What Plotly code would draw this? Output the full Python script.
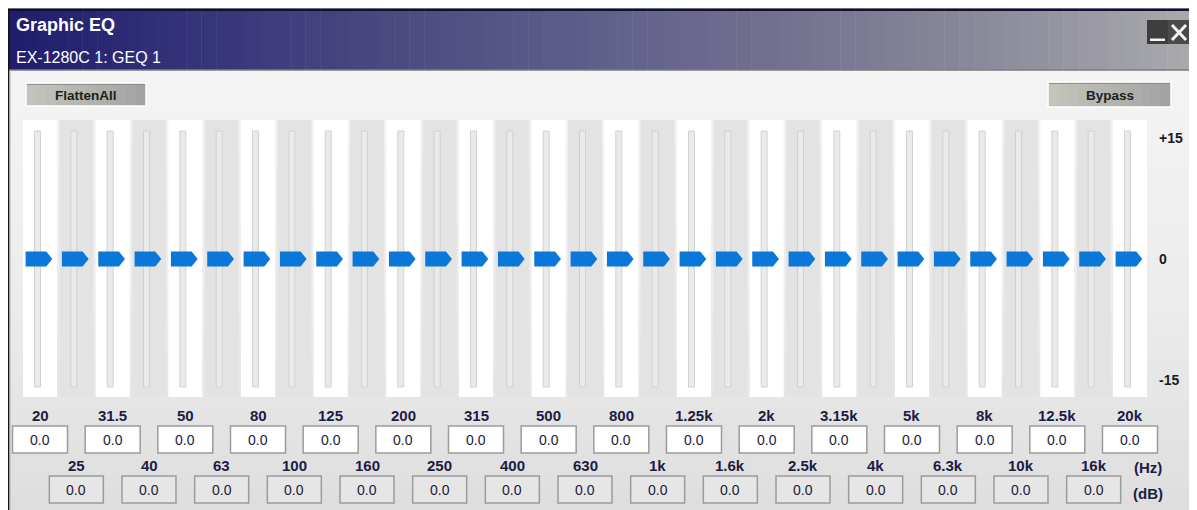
import plotly.graph_objects as go

# ---------------- data ----------------
bands_hz = ["20", "25", "31.5", "40", "50", "63", "80", "100", "125", "160",
            "200", "250", "315", "400", "500", "630", "800", "1k", "1.25k", "1.6k",
            "2k", "2.5k", "3.15k", "4k", "5k", "6.3k", "8k", "10k", "12.5k", "16k", "20k"]
gains_db = [0.0, 0.0, 0.0, 0.0, 0.0, 0.0, 0.0, 0.0, 0.0, 0.0,
            0.0, 0.0, 0.0, 0.0, 0.0, 0.0, 0.0, 0.0, 0.0, 0.0,
            0.0, 0.0, 0.0, 0.0, 0.0, 0.0, 0.0, 0.0, 0.0, 0.0, 0.0]
scale_vals = [15, 0, -15]
scale_text = ["+15", "0", "-15"]
title_text = "Graphic EQ"
subtitle_text = "EX-1280C 1: GEQ 1"
button_left = "FlattenAll"
button_right = "Bypass"
unit_hz = "(Hz)"
unit_db = "(dB)"

# ---------------- geometry (screen pixels) ----------------
SW, SH = 1197, 510          # browser window
OFF = 8                     # default page margin
W, H = SW - OFF, SH - OFF   # figure size
X0_PX = 40.0        # centre of first band (screen px)
PITCH = 36.333      # px per band
Y0_PX = 259.0       # 0 dB (screen px)
PX_PER_DB = 8.07

FONT = "Liberation Sans, Arial, sans-serif"
n = len(bands_hz)
idx = list(range(n))


def fx(px):
    return (px - OFF) / W


def fy(py):
    return 1 - (py - OFF) / H


def dbx(px):  # pixel offset -> band units
    return px / PITCH


def dby(py):  # absolute screen pixel y -> dB
    return (Y0_PX - py) / PX_PER_DB


def hex2rgb(h):
    h = h.lstrip("#")
    return tuple(int(h[i:i + 2], 16) for i in (0, 2, 4))


def interp(stops, v):
    for (a, ca), (b, cb) in zip(stops[:-1], stops[1:]):
        if a <= v <= b:
            t = (v - a) / (b - a) if b > a else 0
            A, B = hex2rgb(ca), hex2rgb(cb)
            return "rgb(%d,%d,%d)" % tuple(round(A[k] + (B[k] - A[k]) * t) for k in range(3))
    return stops[-1][1] if v > stops[-1][0] else stops[0][1]


shapes = []
annotations = []

# ---------------- window chrome ----------------
panel_stops = [(71, "#f4f4f4"), (300, "#ececec"), (510, "#dedede")]
NS = 40
for k in range(NS):
    y0 = 70 + (510 - 70) * k / NS
    y1 = 70 + (510 - 70) * (k + 1) / NS + 0.5
    shapes.append(dict(type="rect", xref="paper", yref="paper", layer="below",
                       x0=fx(8), x1=fx(SW), y0=fy(y1), y1=fy(y0),
                       fillcolor=interp(panel_stops, (y0 + y1) / 2), line=dict(width=0)))

title_stops = [(7, "#1f1c6b"), (200, "#36347a"), (380, "#4a4880"), (590, "#5f5e8a"),
               (800, "#757390"), (1000, "#8d8c9c"), (1197, "#aaaaae")]
NT = 80
for k in range(NT):
    x0 = 8 + (SW - 8) * k / NT
    x1 = 8 + (SW - 8) * (k + 1) / NT + 0.5
    shapes.append(dict(type="rect", xref="paper", yref="paper", layer="below",
                       x0=fx(x0), x1=fx(x1), y0=fy(70), y1=fy(9),
                       fillcolor=interp(title_stops, (x0 + x1) / 2), line=dict(width=0)))
shapes.append(dict(type="line", xref="paper", yref="paper", layer="below",
                   x0=fx(8), x1=1, y0=fy(8.5), y1=fy(8.5), line=dict(color="#6a6890", width=1)))
shapes.append(dict(type="line", xref="paper", yref="paper", layer="below",
                   x0=fx(8), x1=1, y0=fy(10), y1=fy(10), line=dict(color="#111122", width=2)))
shapes.append(dict(type="line", xref="paper", yref="paper", layer="below",
                   x0=fx(8), x1=1, y0=fy(70), y1=fy(70), line=dict(color="#7c7c7c", width=1.5)))
shapes.append(dict(type="line", xref="paper", yref="paper", layer="below",
                   x0=fx(8.7), x1=fx(8.7), y0=0, y1=fy(9), line=dict(color="#151515", width=1.5)))
shapes.append(dict(type="line", xref="paper", yref="paper", layer="below",
                   x0=fx(10), x1=fx(10), y0=0, y1=fy(70), line=dict(color="#b4b4b4", width=1)))

# close button
shapes.append(dict(type="rect", xref="paper", yref="paper", layer="above",
                   x0=fx(1147), x1=fx(1168), y0=fy(44), y1=fy(20),
                   fillcolor="#3e3e3e", line=dict(width=0)))
shapes.append(dict(type="rect", xref="paper", yref="paper", layer="above",
                   x0=fx(1168), x1=fx(1190), y0=fy(44), y1=fy(20),
                   fillcolor="#4a4a4a", line=dict(width=0)))
shapes.append(dict(type="rect", xref="paper", yref="paper", layer="above",
                   x0=fx(1150), x1=fx(1165), y0=fy(41), y1=fy(38.5),
                   fillcolor="#f4f4f4", line=dict(width=0)))
shapes.append(dict(type="line", xref="paper", yref="paper", layer="above",
                   x0=fx(1172), x1=fx(1186), y0=fy(25), y1=fy(40),
                   line=dict(color="#f4f4f4", width=3)))
shapes.append(dict(type="line", xref="paper", yref="paper", layer="above",
                   x0=fx(1172), x1=fx(1186), y0=fy(40), y1=fy(25),
                   line=dict(color="#f4f4f4", width=3)))


def button(x0, x1, y0, y1, label):
    stops = [(x0, "#c6c6be"), (x1, "#a2a2a2")]
    NB = 12
    for k in range(NB):
        a = x0 + (x1 - x0) * k / NB
        b = x0 + (x1 - x0) * (k + 1) / NB + 0.5
        shapes.append(dict(type="rect", xref="paper", yref="paper", layer="above",
                           x0=fx(a), x1=fx(min(b, x1)), y0=fy(y1), y1=fy(y0),
                           fillcolor=interp(stops, (a + b) / 2), line=dict(width=0)))
    shapes.append(dict(type="rect", xref="paper", yref="paper", layer="above",
                       x0=fx(x0), x1=fx(x1), y0=fy(y1), y1=fy(y0),
                       fillcolor="rgba(0,0,0,0)", line=dict(color="#ffffff", width=1.5)))
    shapes.append(dict(type="line", xref="paper", yref="paper", layer="above",
                       x0=fx(x0 + 1), x1=fx(x1 - 1), y0=fy(y0 + 1.5), y1=fy(y0 + 1.5),
                       line=dict(color="#909090", width=1)))
    annotations.append(dict(xref="paper", yref="paper", x=fx((x0 + x1) / 2), y=fy((y0 + y1) / 2 + 0.5),
                            text="<b>%s</b>" % label, showarrow=False,
                            font=dict(family=FONT, size=13.5, color="#1e1e1e"),
                            xanchor="center", yanchor="middle"))


button(26, 146, 83, 106, button_left)
button(1048, 1171, 82, 107, button_right)

annotations.append(dict(xref="paper", yref="paper", x=fx(14), y=fy(25), text="<b>%s</b>" % title_text,
                        showarrow=False, xanchor="left", yanchor="middle",
                        font=dict(family=FONT, size=18, color="#ffffff")))
annotations.append(dict(xref="paper", yref="paper", x=fx(14), y=fy(57), text=subtitle_text,
                        showarrow=False, xanchor="left", yanchor="middle",
                        font=dict(family=FONT, size=16, color="#ffffff")))

# ---------------- band labels & value boxes ----------------
for i, (lab, g) in enumerate(zip(bands_hz, gains_db)):
    top = (i % 2 == 0)
    ly = 415 if top else 465
    by0, by1 = (426, 453) if top else (476, 503)
    half = 27.5 if top else 27
    shapes.append(dict(type="rect", xref="x", yref="paper", layer="above",
                       x0=i - dbx(half), x1=i + dbx(half), y0=fy(by1), y1=fy(by0),
                       fillcolor="#ffffff" if top else "#e6e6e6",
                       line=dict(color="#9c9c9c", width=1.5)))
    annotations.append(dict(xref="x", yref="paper", x=i, y=fy(ly), text="<b>%s</b>" % lab,
                            showarrow=False, xanchor="center", yanchor="middle",
                            font=dict(family=FONT, size=15, color="#1c1c44")))
    annotations.append(dict(xref="x", yref="paper", x=i, y=fy((by0 + by1) / 2), text="%.1f" % g,
                            showarrow=False, xanchor="center", yanchor="middle",
                            font=dict(family=FONT, size=14, color="#202038")))

annotations.append(dict(xref="paper", yref="paper", x=fx(1148), y=fy(467), text="<b>%s</b>" % unit_hz,
                        showarrow=False, xanchor="center", yanchor="middle",
                        font=dict(family=FONT, size=15, color="#1c1c44")))
annotations.append(dict(xref="paper", yref="paper", x=fx(1148), y=fy(493), text="<b>%s</b>" % unit_db,
                        showarrow=False, xanchor="center", yanchor="middle",
                        font=dict(family=FONT, size=15, color="#1c1c44")))

# ---------------- traces ----------------
fig = go.Figure()

strip_top, strip_bot = 120, 397
fig.add_trace(go.Bar(
    x=idx, y=[dby(strip_top) - dby(strip_bot)] * n, base=dby(strip_bot),
    width=dbx(34), marker=dict(color=["#ffffff" if i % 2 == 0 else "#e3e3e3" for i in idx],
                               line=dict(width=0)),
    hoverinfo="skip", showlegend=False))

trk_top, trk_bot = 131, 387
fig.add_trace(go.Bar(
    x=[i - dbx(2.5) for i in idx], y=[dby(trk_top) - dby(trk_bot)] * n, base=dby(trk_bot),
    width=dbx(6), marker=dict(color="#e9ebe9", line=dict(color="#d0d2d0", width=1)),
    hoverinfo="skip", showlegend=False))

ox = [-14, 6.7, 12.7, 6.7, -14, -14]
oy = [7.5, 7.5, 0, -7.5, -7.5, 7.5]
tx, ty = [], []
for i, g in zip(idx, gains_db):
    tx += [i - 0.4 / PITCH + dbx(a) for a in ox] + [None]
    ty += [g + b / PX_PER_DB for b in oy] + [None]
fig.add_trace(go.Scatter(x=tx, y=ty, mode="lines", fill="toself", fillcolor="#0b77d8",
                         line=dict(width=0, color="#0b77d8"), hoverinfo="skip", showlegend=False))

fig.update_layout(
    width=W, height=H, margin=dict(l=0, r=0, t=0, b=0),
    paper_bgcolor="#ffffff", plot_bgcolor="rgba(0,0,0,0)",
    barmode="overlay", showlegend=False,
    xaxis=dict(range=[(OFF - X0_PX) / PITCH, (SW - X0_PX) / PITCH], domain=[0, 1],
               showgrid=False, zeroline=False, showticklabels=False, ticks="", fixedrange=True),
    yaxis=dict(range=[dby(SH), dby(OFF)], domain=[0, 1],
               anchor="free", position=fx(1158), side="right",
               tickvals=scale_vals, ticktext=["<b>%s</b>" % t for t in scale_text],
               tickfont=dict(family=FONT, size=14, color="#1a1a2a"),
               showgrid=False, zeroline=False, showline=False, ticks="", fixedrange=True),
    shapes=shapes, annotations=annotations,
)

fig.write_html("out.html")
